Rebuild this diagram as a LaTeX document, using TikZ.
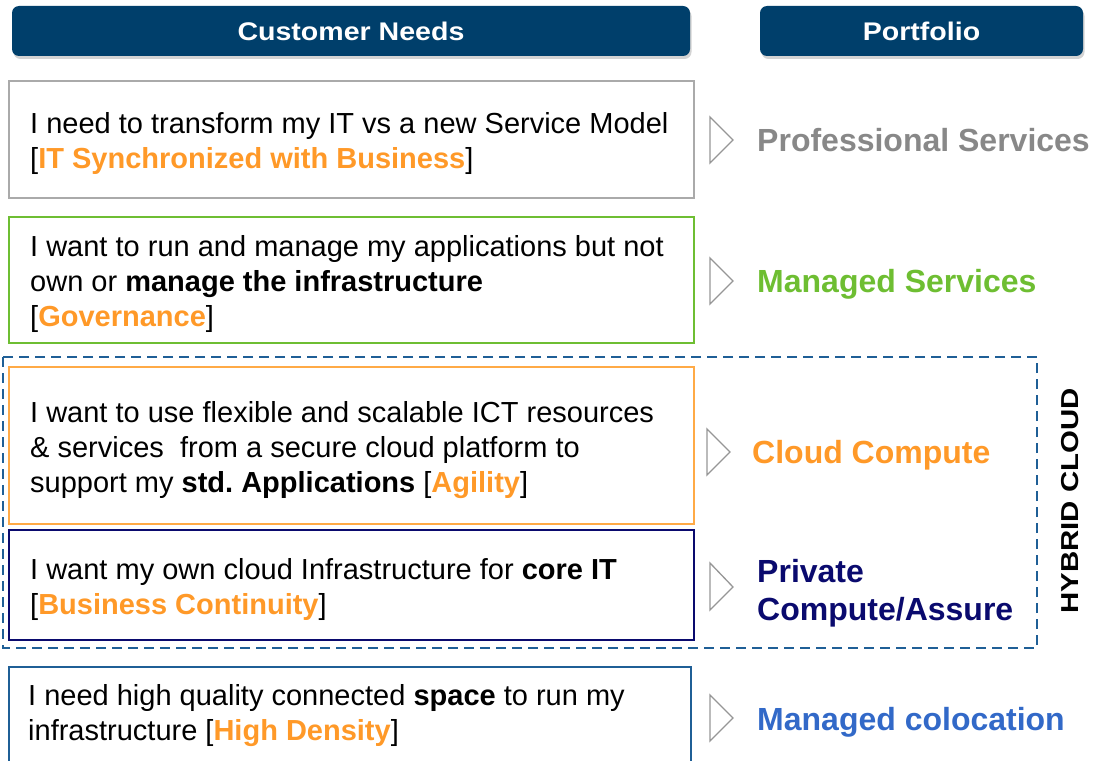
\documentclass[tikz,border=0pt]{standalone}
\usepackage{fontspec}
\setmainfont{Liberation Sans}
\newfontfamily\hdrfont[FakeStretch=1.12]{Liberation Sans}
\newfontfamily\hybfont[FakeStretch=1.2]{Liberation Sans}
\usetikzlibrary{shadows}
\frenchspacing
\definecolor{hdr}{RGB}{0,63,107}
\definecolor{boxgray}{RGB}{170,170,170}
\definecolor{txtgray}{RGB}{136,136,136}
\definecolor{grn}{RGB}{110,190,50}
\definecolor{org}{RGB}{255,153,40}
\definecolor{orgbox}{RGB}{255,170,70}
\definecolor{navy}{RGB}{10,10,110}
\definecolor{dashblue}{RGB}{31,95,150}
\definecolor{colblue}{RGB}{50,105,200}
\definecolor{chevgray}{RGB}{150,150,150}
\newcommand{\hl}[1]{\textcolor{org}{\textbf{#1}}}
\begin{document}
\begin{tikzpicture}[x=1pt,y=-1pt,
  header/.style={fill=hdr, rounded corners=7pt,
     drop shadow={shadow xshift=1.5pt, shadow yshift=-3pt, opacity=0.35}},
  hdrtext/.style={text=white, font=\hdrfont\fontsize{25.5}{28}\selectfont\bfseries},
  needtext/.style={anchor=base west, inner sep=0pt, align=left, font=\frenchspacing\fontsize{29}{35}\selectfont},
  needbox/.style={line width=2pt},
  chev/.style={draw=chevgray, line width=1.3pt, line join=miter},
  label/.style={anchor=west, inner sep=0pt, align=left, font=\fontsize{32}{38}\selectfont\bfseries}
]
\useasboundingbox (0,0) rectangle (1094,760);
% headers
\path[header] (12,6) rectangle (690,56);
\node[hdrtext] (h1) at (351,31) {Customer Needs};
\path[header] (760,6) rectangle (1083,56);
\node[hdrtext] (h2) at (921.5,31) {Portfolio};
% dashed hybrid cloud frame
\draw[dashblue, line width=2pt, dash pattern=on 10pt off 6pt] (3,357) rectangle (1037,648);
% boxes
\draw[needbox, boxgray] (9,81) rectangle (694,198);
\draw[needbox, grn] (9,217) rectangle (694,343);
\draw[needbox, orgbox] (9,367) rectangle (694,524);
\draw[needbox, navy] (9,530) rectangle (694,640);
\draw[needbox, dashblue] (9,667) rectangle (691,765);
% texts (anchored at the baseline of the last line)
\node[needtext] (t1) at (30,168.5) {I need to transform my IT vs a new Service Model\\{[}\hl{IT Synchronized with Business}]};
\node[needtext] (t2) at (30,326) {I want to run and manage my applications but not\\own or \textbf{manage the infrastructure}\\{[}\hl{Governance}]};
\node[needtext] (t3) at (30,492) {I want to use flexible and scalable ICT resources\\\& services\ \ from a secure cloud platform to\\support my \textbf{std.\ Applications} [\hl{Agility}]};
\node[needtext] (t4) at (30,614) {I want my own cloud Infrastructure for \textbf{core IT}\\{[}\hl{Business Continuity}]};
\node[needtext] (t5) at (28,740) {I need high quality connected \textbf{space} to run my\\infrastructure [\hl{High Density}]};
% chevrons
\draw[chev] (710,117) -- (733,140) -- (710,163) -- cycle;
\draw[chev] (710,258) -- (733,281) -- (710,304) -- cycle;
\draw[chev] (707,429) -- (730,452) -- (707,475) -- cycle;
\draw[chev] (710,563) -- (733,587) -- (710,610) -- cycle;
\draw[chev] (710,695) -- (733,718) -- (710,741) -- cycle;
% portfolio labels
\node[label, text=txtgray] (p1) at (757,140) {Professional Services};
\node[label, text=grn] (p2) at (757,284) {Managed Services};
\node[label, text=org] (p3) at (752,455) {Cloud Compute};
\node[label, text=navy] (p4) at (757,593) {Private\\Compute/Assure};
\node[label, text=colblue] (p5) at (757,722) {Managed colocation};
% hybrid cloud
\node[rotate=90, font=\hybfont\fontsize{24.5}{28}\selectfont\bfseries] (hc) at (1070,501) {HYBRID CLOUD};
\end{tikzpicture}
\end{document}
